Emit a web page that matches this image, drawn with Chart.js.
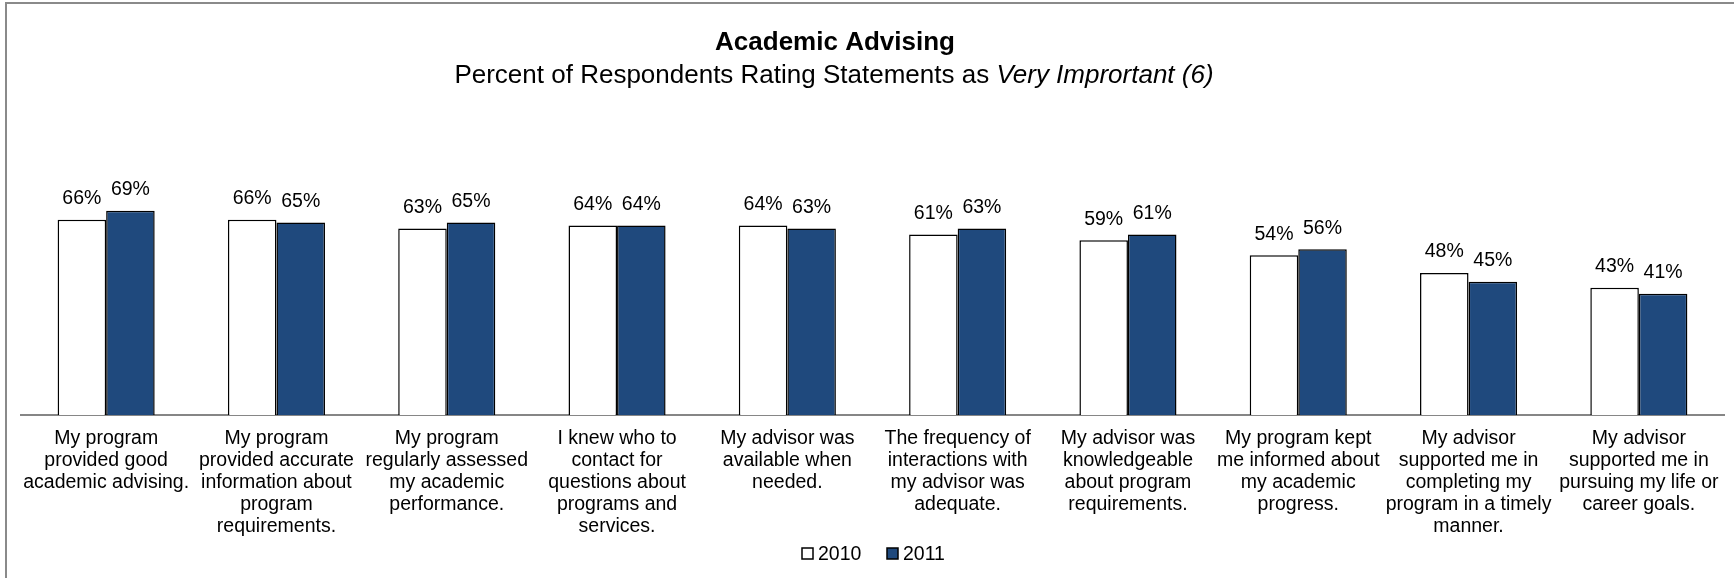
<!DOCTYPE html>
<html>
<head>
<meta charset="utf-8">
<title>Academic Advising</title>
<script src="https://cdn.jsdelivr.net/npm/chart.js"></script>
<style>
  html, body { margin: 0; padding: 0; background: #fff; overflow: hidden; }
  #frame {
    position: absolute; left: 5px; top: 2px;
    width: 1900px; height: 800px;
    border: 2px solid #8a8a8a;
  }
  #advising { position: absolute; left: 0; top: 0; }
</style>
</head>
<body>
<div id="frame"></div>
<canvas id="advising" width="1734" height="578"></canvas>
<script>
const categories = [
  ['My program', 'provided good', 'academic advising.'],
  ['My program', 'provided accurate', 'information about', 'program', 'requirements.'],
  ['My program', 'regularly assessed', 'my academic', 'performance.'],
  ['I knew who to', 'contact for', 'questions about', 'programs and', 'services.'],
  ['My advisor was', 'available when', 'needed.'],
  ['The frequency of', 'interactions with', 'my advisor was', 'adequate.'],
  ['My advisor was', 'knowledgeable', 'about program', 'requirements.'],
  ['My program kept', 'me informed about', 'my academic', 'progress.'],
  ['My advisor', 'supported me in', 'completing my', 'program in a timely', 'manner.'],
  ['My advisor', 'supported me in', 'pursuing my life or', 'career goals.']
];
const years = ['2010', '2011'];
const values2010 = [66, 66, 63, 64, 64, 61, 59, 54, 48, 43];
const values2011 = [69, 65, 65, 64, 63, 63, 61, 56, 45, 41];

const FONT = '"Liberation Sans", Arial, sans-serif';
const BLUE = '#1f497d';

// title, subtitle (with italic tail), value labels and the legend
const decorations = {
  id: 'decorations',
  afterDatasetsDraw(chart) {
    const ctx = chart.ctx;
    ctx.save();
    ctx.fillStyle = '#000';
    ctx.textAlign = 'center';
    ctx.textBaseline = 'alphabetic';

    ctx.font = 'bold 26px ' + FONT;
    ctx.fillText('Academic Advising', 835, 50);

    const plain = 'Percent of Respondents Rating Statements as ';
    const italic = 'Very Imprortant (6)';
    ctx.font = '26px ' + FONT;
    const w1 = ctx.measureText(plain).width;
    ctx.font = 'italic 26px ' + FONT;
    const w2 = ctx.measureText(italic).width;
    let x = 834 - (w1 + w2) / 2;
    ctx.textAlign = 'left';
    ctx.font = '26px ' + FONT;
    ctx.fillText(plain, x, 83);
    ctx.font = 'italic 26px ' + FONT;
    ctx.fillText(italic, x + w1, 83);

    // value labels above each bar
    ctx.textAlign = 'center';
    ctx.font = '19.5px ' + FONT;
    chart.data.datasets.forEach((ds, i) => {
      const meta = chart.getDatasetMeta(i);
      meta.data.forEach((bar, j) => {
        ctx.fillText(ds.data[j] + '%', bar.x, bar.y - 15.5);
      });
    });

    // legend
    const items = [
      { text: years[0], fill: '#fff', x: 802 },
      { text: years[1], fill: BLUE, x: 887 }
    ];
    ctx.textAlign = 'left';
    ctx.lineWidth = 1.5;
    ctx.strokeStyle = '#000';
    items.forEach(it => {
      ctx.fillStyle = it.fill;
      ctx.fillRect(it.x, 548, 11, 11);
      ctx.strokeRect(it.x, 548, 11, 11);
      ctx.fillStyle = '#000';
      ctx.fillText(it.text, it.x + 16, 559.5);
    });
    ctx.restore();
  }
};

new Chart(document.getElementById('advising'), {
  type: 'bar',
  data: {
    labels: categories,
    datasets: [
      {
        label: years[0],
        data: values2010,
        backgroundColor: '#ffffff',
        borderColor: '#000000',
        borderWidth: 1.5
      },
      {
        label: years[1],
        data: values2011,
        backgroundColor: BLUE,
        borderColor: '#000000',
        borderWidth: 1.5
      }
    ]
  },
  options: {
    responsive: false,
    animation: false,
    devicePixelRatio: 1,
    layout: {
      padding: { top: 119, left: 21, right: 10, bottom: 27 }
    },
    datasets: {
      bar: { categoryPercentage: 0.57, barPercentage: 1.0 }
    },
    plugins: {
      legend: { display: false },
      title: { display: false },
      tooltip: { enabled: false }
    },
    scales: {
      x: {
        grid: { display: false, drawTicks: false },
        border: { display: true, color: '#868686', width: 2 },
        ticks: {
          color: '#000',
          padding: 13,
          maxRotation: 0,
          autoSkip: false,
          font: { family: FONT, size: 19.5, lineHeight: '22px' }
        }
      },
      y: {
        display: false,
        min: 0,
        max: 100
      }
    }
  },
  plugins: [decorations]
});
</script>
</body>
</html>
